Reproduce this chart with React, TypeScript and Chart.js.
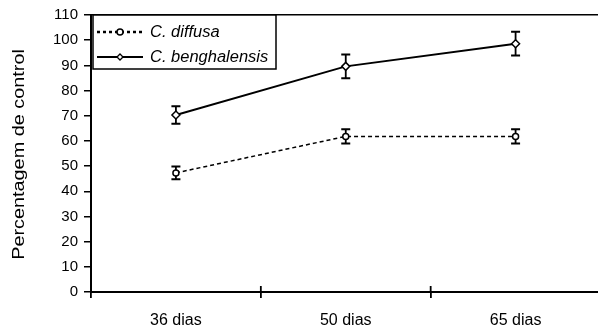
import React, { useEffect, useRef } from "react";
import { Chart, registerables } from "chart.js";

Chart.register(...registerables);

const categories = ["36 dias", "50 dias", "65 dias"];
const diffusaValues = [47.3, 61.8, 61.8];
const diffusaErrors = [2.5, 2.8, 2.8];
const benghalensisValues = [70.3, 89.6, 98.6];
const benghalensisErrors = [3.5, 4.7, 4.7];
const seriesNames = ["C. diffusa", "C. benghalensis"];
const yTitle = "Percentagem de control";
const yMin = 0;
const yMax = 110;
const yStep = 10;

const errorSets = [diffusaErrors, benghalensisErrors];

const errorBarPlugin = {
  id: "errorBars",
  beforeDatasetsDraw(chart: any) {
    const ctx = chart.ctx;
    const y = chart.scales.y;
    const x = chart.scales.x;
    ctx.save();
    ctx.strokeStyle = "#000";
    chart.data.datasets.forEach((ds: any, di: number) => {
      ds.data.forEach((v: number, i: number) => {
        const e = errorSets[di][i];
        const px = x.getPixelForValue(i);
        const top = y.getPixelForValue(v + e);
        const bot = y.getPixelForValue(v - e);
        ctx.lineWidth = 1.8;
        ctx.beginPath();
        ctx.moveTo(px, top);
        ctx.lineTo(px, bot);
        ctx.stroke();
        ctx.lineWidth = 2;
        ctx.beginPath();
        ctx.moveTo(px - 4.5, top);
        ctx.lineTo(px + 4.5, top);
        ctx.moveTo(px - 4.5, bot);
        ctx.lineTo(px + 4.5, bot);
        ctx.stroke();
      });
    });
    ctx.restore();
  },
};

const framePlugin = {
  id: "frameExtras",
  afterDraw(chart: any) {
    const ctx = chart.ctx;
    const area = chart.chartArea;
    const x = chart.scales.x;
    ctx.save();
    const half = (x.getPixelForValue(1) - x.getPixelForValue(0)) / 2;
    ctx.strokeStyle = "#000";
    ctx.lineWidth = 1.8;
    for (let i = 1; i < categories.length; i++) {
      const bx = x.getPixelForValue(i) - half;
      ctx.beginPath();
      ctx.moveTo(bx, area.bottom - 6);
      ctx.lineTo(bx, area.bottom);
      ctx.stroke();
    }
    ctx.fillStyle = "#000";
    ctx.font = "16px 'Liberation Sans', Arial, sans-serif";
    ctx.textAlign = "center";
    ctx.textBaseline = "middle";
    ctx.translate(20, (area.top + area.bottom) / 2 + 1);
    ctx.rotate(-Math.PI / 2);
    ctx.scale(1.24, 1);
    ctx.fillText(yTitle, 0, 0);
    ctx.restore();

    ctx.save();
    const lx = area.left + 2;
    const ly = area.top;
    const lw = 183;
    const lh = 54;
    ctx.fillStyle = "#fff";
    ctx.fillRect(lx, ly, lw, lh);
    ctx.strokeStyle = "#000";
    ctx.lineWidth = 1.5;
    ctx.strokeRect(lx, ly, lw, lh);
    const rows = [ly + 17, ly + 42];
    ctx.lineWidth = 2.5;
    ctx.setLineDash([3, 3]);
    ctx.beginPath();
    ctx.moveTo(lx + 4, rows[0]);
    ctx.lineTo(lx + 50, rows[0]);
    ctx.stroke();
    ctx.setLineDash([]);
    ctx.lineWidth = 1.5;
    ctx.fillStyle = "#fff";
    ctx.beginPath();
    ctx.arc(lx + 27, rows[0], 3, 0, Math.PI * 2);
    ctx.fill();
    ctx.stroke();
    ctx.lineWidth = 1.8;
    ctx.beginPath();
    ctx.moveTo(lx + 4, rows[1]);
    ctx.lineTo(lx + 50, rows[1]);
    ctx.stroke();
    ctx.lineWidth = 1.3;
    ctx.beginPath();
    ctx.moveTo(lx + 27, rows[1] - 3);
    ctx.lineTo(lx + 30, rows[1]);
    ctx.lineTo(lx + 27, rows[1] + 3);
    ctx.lineTo(lx + 24, rows[1]);
    ctx.closePath();
    ctx.fill();
    ctx.stroke();
    ctx.fillStyle = "#000";
    ctx.font = "italic 16px 'Liberation Sans', Arial, sans-serif";
    ctx.textAlign = "left";
    ctx.textBaseline = "middle";
    seriesNames.forEach((n, i) => {
      ctx.save();
      ctx.translate(lx + 57, rows[i] + 1);
      ctx.scale(1.03, 1);
      ctx.fillText(n, 0, 0);
      ctx.restore();
    });
    ctx.restore();
  },
};

export default function App() {
  const ref = useRef<HTMLCanvasElement | null>(null);
  useEffect(() => {
    document.body.style.margin = "0";
    const canvas = ref.current!;
    const chart = new Chart(canvas, {
      type: "line",
      data: {
        labels: categories,
        datasets: [
          {
            label: seriesNames[0],
            data: diffusaValues,
            borderColor: "#000",
            borderWidth: 1.5,
            borderDash: [4, 3],
            pointStyle: "circle",
            pointRadius: 3,
            pointBorderWidth: 1.5,
            pointBackgroundColor: "#fff",
            pointBorderColor: "#000",
            tension: 0,
          },
          {
            label: seriesNames[1],
            data: benghalensisValues,
            borderColor: "#000",
            borderWidth: 2,
            pointStyle: "rectRot",
            pointRadius: 4,
            pointBorderWidth: 1.5,
            pointBackgroundColor: "#fff",
            pointBorderColor: "#000",
            tension: 0,
          },
        ],
      },
      options: {
        responsive: false,
        animation: false,
        events: [],
        layout: { padding: { left: 0, right: 2, top: 14.5, bottom: 0 } },
        plugins: {
          legend: { display: false },
          tooltip: { enabled: false },
        },
        scales: {
          x: {
            type: "category",
            offset: true,
            border: { display: true, color: "#000", width: 2 },
            grid: {
              offset: true,
              display: true,
              drawOnChartArea: false,
              drawTicks: true,
              tickLength: 6,
              color: "#000",
              lineWidth: 1.8,
            },
            ticks: {
              color: "#000",
              padding: 13,
              font: { family: "'Liberation Sans', Arial, sans-serif", size: 16 },
              maxRotation: 0,
            },
            afterFit: (s: any) => {
              s.height = 39;
            },
          },
          y: {
            min: yMin,
            max: yMax,
            border: { display: true, color: "#000", width: 2 },
            grid: {
              drawOnChartArea: true,
              drawTicks: true,
              tickLength: 7,
              color: (c: any) => (c.tick && c.tick.value === yMax ? "#000" : "rgba(0,0,0,0)"),
              tickColor: "#000",
              lineWidth: 1.5,
            },
            ticks: {
              stepSize: yStep,
              color: "#000",
              padding: 6,
              font: { family: "'Liberation Sans', Arial, sans-serif", size: 15 },
            },
            afterFit: (s: any) => {
              s.width = 91;
            },
          },
        },
      },
      plugins: [errorBarPlugin, framePlugin],
    });
    return () => chart.destroy();
  }, []);
  return (
    <div style={{ width: 598, height: 331, overflow: "hidden", position: "relative" }}>
      <canvas ref={ref} width={606} height={331} style={{ display: "block" }} />
    </div>
  );
}
